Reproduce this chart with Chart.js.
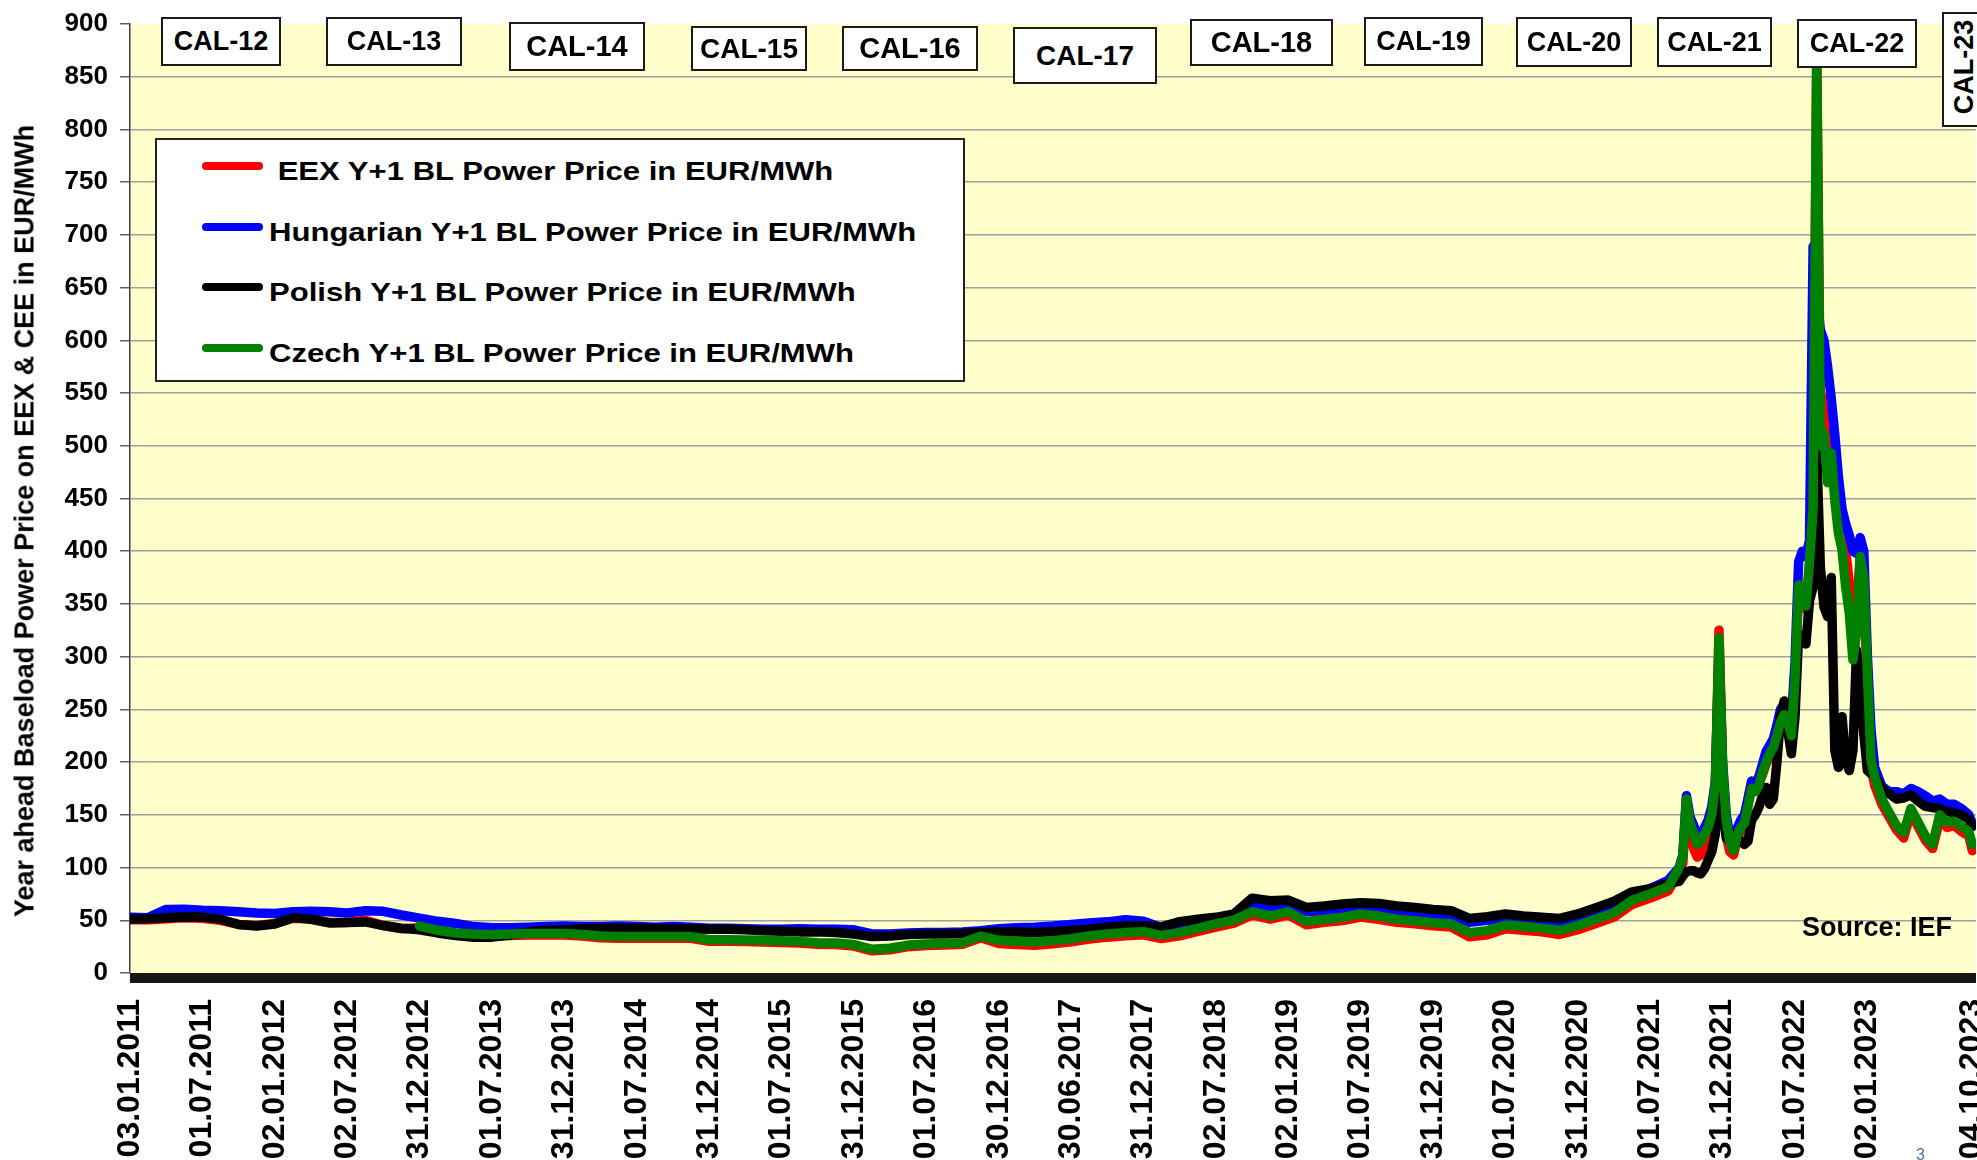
<!DOCTYPE html>
<html lang="en">
<head>
<meta charset="utf-8">
<title>Year ahead Baseload Power Price on EEX &amp; CEE</title>
<script src="https://cdn.jsdelivr.net/npm/chart.js@4.4.1/dist/chart.umd.min.js"></script>
<style>
  html, body { margin: 0; padding: 0; background: #fff; overflow: hidden; }
  #page { position: relative; width: 1977px; height: 1160px; overflow: hidden; font-family: 'Liberation Sans', Arial, sans-serif; font-weight: bold; color: #000; }
  #chartBox { position: absolute; left: 0; top: 0; width: 1977px; height: 1160px; }
  .y-title { position: absolute; left: 25px; top: 521px; transform: translate(-50%, -50%) rotate(-90deg); white-space: nowrap; font-size: 27px; line-height: 27px; }
  .legend { position: absolute; left: 155px; top: 138px; width: 810px; height: 244px; box-sizing: border-box; border: 2px solid #222; background: #fff; }
  .legend .swatch { position: absolute; left: 45px; width: 61px; height: 8px; border-radius: 4px; }
  .legend .label { position: absolute; left: 112px; font-size: 26px; line-height: 26px; white-space: pre; transform: scaleX(1.195); transform-origin: left center; }
  .cal { position: absolute; box-sizing: border-box; border: 2px solid #1a1a1a; background: #fff; display: flex; align-items: center; justify-content: center; line-height: 1; white-space: nowrap; }
  .cal.vertical span { position: absolute; left: 20px; top: 53px; transform: translate(-50%, -50%) rotate(-90deg); }
  .source { position: absolute; left: 1802px; top: 914px; font-size: 27px; line-height: 27px; white-space: nowrap; }
  .page-no { position: absolute; left: 1916px; top: 1147px; font-size: 16px; line-height: 16px; font-weight: normal; color: #4f6d8f; }
</style>
</head>
<body>
<div id="page">
  <div id="chartBox"><canvas id="priceChart"></canvas></div>
  <div class="y-title">Year ahead Baseload Power Price on EEX &amp; CEE in EUR/MWh</div>
  <div class="legend" id="legend"></div>
  <div id="calBoxes"></div>
  <div class="source">Source: IEF</div>
  <div class="page-no">3</div>
</div>
<script>
// x = position in half-year label steps (0 = 03.01.2011, 24 = 02.01.2023)
const tradeIndex = [
  0, 0.25, 0.5, 0.75, 1, 1.25, 1.5, 1.75, 2, 2.25,
  2.5, 2.75, 3, 3.25, 3.5, 3.75, 4, 4.25, 4.5, 4.75,
  5, 5.25, 5.5, 5.75, 6, 6.25, 6.5, 6.75, 7, 7.25,
  7.5, 7.75, 8, 8.25, 8.5, 8.75, 9, 9.25, 9.5, 9.75,
  10, 10.25, 10.5, 10.75, 11, 11.25, 11.5, 11.75, 12, 12.25,
  12.5, 12.75, 13, 13.25, 13.5, 13.75, 14, 14.25, 14.5, 14.75,
  15, 15.25, 15.5, 15.75, 16, 16.25, 16.5, 16.75, 17, 17.25,
  17.5, 17.75, 18, 18.25, 18.5, 18.75, 19, 19.25, 19.5, 19.75,
  20, 20.25, 20.5, 20.75, 21, 21.25,
  21.4, 21.45, 21.5, 21.55, 21.6, 21.65, 21.7, 21.75, 21.8, 21.85,
  21.9, 21.95, 22, 22.05, 22.1, 22.15, 22.2, 22.25, 22.3, 22.35,
  22.4, 22.45, 22.5, 22.55, 22.6, 22.65, 22.7, 22.75, 22.8, 22.85,
  22.9, 22.95, 23, 23.05, 23.1, 23.15, 23.2, 23.25, 23.3, 23.35,
  23.4, 23.45, 23.5, 23.55, 23.6, 23.65, 23.7, 23.75, 23.8, 23.85,
  23.9, 23.95, 24, 24.05, 24.1,
  24.2, 24.3, 24.4, 24.5, 24.6, 24.7, 24.8, 24.9, 25, 25.1, 25.2, 25.3, 25.4, 25.45,
];

const eex = [
  50.5, 50.5, 51.5, 52.5, 52, 50, 46, 45, 47, 52,
  51.5, 48, 48, 50, 45, 42, 43, 39, 36.5, 35.5,
  35, 35.5, 36, 36, 36, 35, 33.5, 33, 33, 33,
  33, 33, 30, 30, 29.8, 29.5, 29, 28.5, 27.3, 27,
  25.5, 21, 22, 25, 26, 26.5, 27.3, 33.5, 28, 27,
  26.4, 27.7, 29.5, 32.1, 34, 35.3, 36.2, 32.7, 35.3, 39.4,
  43.5, 47.2, 55.1, 51, 55.1, 45.7, 48, 49.8, 53, 51,
  48, 46.6, 44.7, 43.5, 34.3, 36.2, 42, 40.5, 39, 36.5,
  41, 47, 53, 65, 71, 78,
  96, 104, 160, 135, 118, 110, 112, 122, 130, 145,
  178, 325, 190, 130, 115, 112, 126, 135, 145, 165,
  180, 176, 180, 188, 198, 205, 210, 222, 235, 240,
  236, 222, 278, 365, 362, 345, 385, 445, 860, 540,
  545, 530, 505, 470, 440, 420, 400, 370, 330, 340,
  395, 370, 270, 195, 178,
  160, 148, 136, 128, 152, 139, 126, 118, 146, 138, 140, 134, 130, 116,
];

const hungarian = [
  52.8, 52.5, 60.3, 60.5, 59.5, 59, 58, 57, 56.5, 58,
  58.5, 58, 57, 59, 58.5, 55, 52, 49, 47, 44,
  43, 43, 43.5, 44, 44.5, 44, 44, 44.5, 44, 43.5,
  44, 43.5, 42.5, 42.5, 42, 41.5, 41.5, 42, 41.5, 41.5,
  41, 37, 37, 38, 38.5, 38.5, 39, 40, 42, 43,
  43.5, 44.5, 46, 47.5, 48.5, 50.5, 49, 43, 47, 50,
  52, 55, 66, 63, 64, 58, 59, 59, 60, 60,
  58, 57, 56, 55, 48, 50, 52, 51, 50, 49,
  51, 57, 62, 74, 80, 88,
  100, 112, 168, 148, 140, 130, 130, 138, 145, 158,
  182, 305, 200, 150, 130, 125, 137, 145, 150, 165,
  182, 180, 186, 198, 210, 216, 222, 235, 250, 255,
  250, 240, 295, 390, 400, 395, 410, 689, 640, 610,
  600, 575, 545, 510, 470, 440, 426, 415, 400, 398,
  413, 400, 300, 230, 195,
  177, 172, 172, 170, 175, 172, 168, 163, 165, 160, 160, 156, 150, 142,
];

const polish = [
  51.3, 51.5, 52.5, 53.4, 53, 51, 46, 44.6, 46.5, 52.5,
  51, 47.5, 48, 48.4, 45, 42.5, 41, 38, 35.5, 34,
  34, 36, 39, 40.5, 41, 42, 42.5, 42.5, 42.5, 42.5,
  42, 42, 41.5, 41.5, 41, 40, 39.5, 39, 39, 38.5,
  37, 34.5, 35, 36.5, 37, 37, 37.5, 38.5, 39, 38.9,
  38.5, 39.2, 40.2, 41.4, 43.3, 44.6, 44.6, 43.9, 48.7, 51,
  52.8, 56, 71, 68.6, 69.2, 62.2, 63.5, 65.4, 66.7, 66,
  63.5, 62.2, 60.3, 59.1, 51.8, 53.4, 56, 54, 52.8, 51.8,
  56, 62, 68, 77, 80, 85,
  87, 92, 96, 97, 97, 95, 94, 99, 107, 115,
  132, 170, 162, 128, 126, 132, 129, 125, 122, 125,
  145, 150, 157, 168, 176, 160, 165, 200, 243, 258,
  230, 208, 243, 322, 316, 312, 353, 366, 495, 385,
  347, 338, 375, 211, 195, 243, 201, 192, 211, 306,
  274, 227, 192, 189, 187,
  175, 170, 165, 166, 169, 163, 158, 157, 156, 153, 152, 150, 146, 139,
];

const czech = [
  null, null, null, null, null, null, null, null, null, null,
  null, null, null, null, null, null, 44.5, 40.5, 38, 37,
  36.5, 37, 37.5, 37.5, 37.5, 36.5, 35, 34.5, 34.5, 34.5,
  34.5, 34.5, 31.5, 31.5, 31.3, 31, 30.5, 30, 28.8, 28.5,
  27, 22.5, 23.5, 26.5, 27.5, 28, 28.8, 35, 31, 30,
  29.4, 30.7, 32.5, 35.1, 37, 38.3, 39.2, 35.7, 38.3, 42.4,
  46.5, 50.2, 58.1, 54, 58.1, 48.7, 51, 52.8, 56, 54,
  51, 49.6, 47.7, 46.5, 38.3, 40.2, 45.5, 44, 42.4, 40.2,
  45, 51, 57, 69, 75, 82,
  100, 110, 165, 142, 132, 122, 125, 132, 138, 150,
  180, 318, 195, 145, 125, 116, 130, 138, 142, 158,
  175, 172, 178, 190, 200, 208, 214, 225, 238, 245,
  240, 225, 280, 368, 365, 348, 390, 440, 875, 500,
  512, 465, 493, 448, 417, 401, 366, 341, 297, 322,
  395, 375, 284, 202, 186,
  165, 152, 140, 133, 156, 143, 130, 122, 150, 143, 144, 139, 134, 122,
];

const tickPositions = [0, 1, 2, 3, 4, 5, 6, 7, 8, 9, 10, 11, 12, 13, 14, 15, 16, 17, 18, 19, 20, 21, 22, 23, 24, 25.45];
const tickLabels = [
  '03.01.2011', '01.07.2011', '02.01.2012', '02.07.2012', '31.12.2012', '01.07.2013', '31.12.2013',
  '01.07.2014', '31.12.2014', '01.07.2015', '31.12.2015', '01.07.2016', '30.12.2016', '30.06.2017',
  '31.12.2017', '02.07.2018', '02.01.2019', '01.07.2019', '31.12.2019', '01.07.2020', '31.12.2020',
  '01.07.2021', '31.12.2021', '01.07.2022', '02.01.2023', '04.10.2023',
];

const seriesNames = [
  ' EEX Y+1 BL Power Price in EUR/MWh',
  'Hungarian Y+1 BL Power Price in EUR/MWh',
  'Polish Y+1 BL Power Price in EUR/MWh',
  'Czech Y+1 BL Power Price in EUR/MWh',
];
const calLabels = ['CAL-12', 'CAL-13', 'CAL-14', 'CAL-15', 'CAL-16', 'CAL-17', 'CAL-18', 'CAL-19', 'CAL-20', 'CAL-21', 'CAL-22', 'CAL-23'];

const seriesColors = ['#ff0000', '#0000ff', '#000000', '#008000'];
const legendRows = [166, 227, 287, 348];
// left, top, width, height, font size
const calLayout = [
  [161, 17, 120, 49, 27], [326, 17, 136, 49, 27], [509, 22, 136, 49, 29], [691, 26, 116, 45, 28],
  [842, 26, 136, 45, 29], [1013, 27, 144, 57, 28], [1190, 19, 143, 47, 29], [1364, 17, 119, 49, 27],
  [1516, 17, 116, 50, 27], [1657, 17, 115, 50, 27], [1797, 19, 120, 49, 27], [1942, 12, 50, 115, 27],
];
const fontFamily = "'Liberation Sans', Arial, sans-serif";

const legend = document.getElementById('legend');
seriesNames.forEach((name, i) => {
  const swatch = document.createElement('div');
  swatch.className = 'swatch';
  swatch.style.top = `${legendRows[i] - 4 - 140}px`;
  swatch.style.background = seriesColors[i];
  legend.appendChild(swatch);
  const label = document.createElement('div');
  label.className = 'label';
  label.style.top = `${legendRows[i] - 8 - 140}px`;
  label.textContent = name;
  legend.appendChild(label);
});

const calBoxes = document.getElementById('calBoxes');
calLabels.forEach((text, i) => {
  const [left, top, width, height, size] = calLayout[i];
  const box = document.createElement('div');
  box.className = i === calLabels.length - 1 ? 'cal vertical' : 'cal';
  Object.assign(box.style, { left: `${left}px`, top: `${top}px`, width: `${width}px`, height: `${height}px`, fontSize: `${size}px` });
  const span = document.createElement('span');
  span.textContent = text;
  box.appendChild(span);
  calBoxes.appendChild(box);
});

const plotBackground = {
  id: 'plotBackground',
  beforeDraw(chart) {
    const { ctx, chartArea: a } = chart;
    ctx.save();
    ctx.fillStyle = '#ffffcc';
    ctx.fillRect(a.left, a.top, a.right - a.left, a.bottom - a.top);
    ctx.restore();
  },
};

// the category axis in the original has one tick per trading day, which merges into a dark band
const axisBand = {
  id: 'axisBand',
  afterDatasetsDraw(chart) {
    const { ctx, chartArea: a } = chart;
    ctx.save();
    ctx.fillStyle = '#161616';
    ctx.fillRect(a.left, a.bottom, a.right - a.left, 10);
    ctx.restore();
  },
};

const makeSeries = (label, values, color, order) => ({
  label,
  data: tradeIndex.map((x, i) => ({ x, y: values[i] })),
  borderColor: color,
  backgroundColor: color,
  borderWidth: 9.5,
  borderJoinStyle: 'round',
  borderCapStyle: 'round',
  pointRadius: 0,
  tension: 0,
  spanGaps: false,
  order,
});

new Chart(document.getElementById('priceChart'), {
  type: 'line',
  data: {
    datasets: [
      makeSeries(seriesNames[0].trim(), eex, seriesColors[0], 4),
      makeSeries(seriesNames[1], hungarian, seriesColors[1], 3),
      makeSeries(seriesNames[2], polish, seriesColors[2], 2),
      makeSeries(seriesNames[3], czech, seriesColors[3], 1),
    ],
  },
  options: {
    responsive: true,
    maintainAspectRatio: false,
    animation: false,
    events: [],
    layout: { padding: { top: 24, right: 1, bottom: 0, left: 0 } },
    plugins: { legend: { display: false }, tooltip: { enabled: false } },
    scales: {
      x: {
        type: 'linear',
        min: 0,
        max: 25.5,
        afterBuildTicks: (scale) => { scale.ticks = tickPositions.map((value) => ({ value })); },
        ticks: {
          autoSkip: false,
          minRotation: 90,
          maxRotation: 90,
          padding: 26,
          color: '#000',
          font: { family: fontFamily, size: 32, weight: 'bold' },
          callback: (value, index) => tickLabels[index],
        },
        grid: { display: false, drawTicks: false },
        border: { display: false },
        afterFit: (scale) => { scale.height = 187; scale.paddingLeft = 0; scale.paddingRight = 0; },
      },
      y: {
        min: 0,
        max: 900,
        ticks: {
          stepSize: 50,
          padding: 12,
          color: '#000',
          font: { family: fontFamily, size: 26, weight: 'bold' },
        },
        grid: {
          color: (c) => (c.tick && (c.tick.value === 900 || c.tick.value === 0) ? 'rgba(0,0,0,0)' : '#a0a0a0'),
          lineWidth: 1.5,
          tickColor: '#606060',
          tickLength: 10,
        },
        border: { color: '#404040', width: 1.5 },
        afterFit: (scale) => { scale.width = 130; scale.paddingTop = 0; scale.paddingBottom = 0; },
      },
    },
  },
  plugins: [plotBackground, axisBand],
});
</script>
</body>
</html>
